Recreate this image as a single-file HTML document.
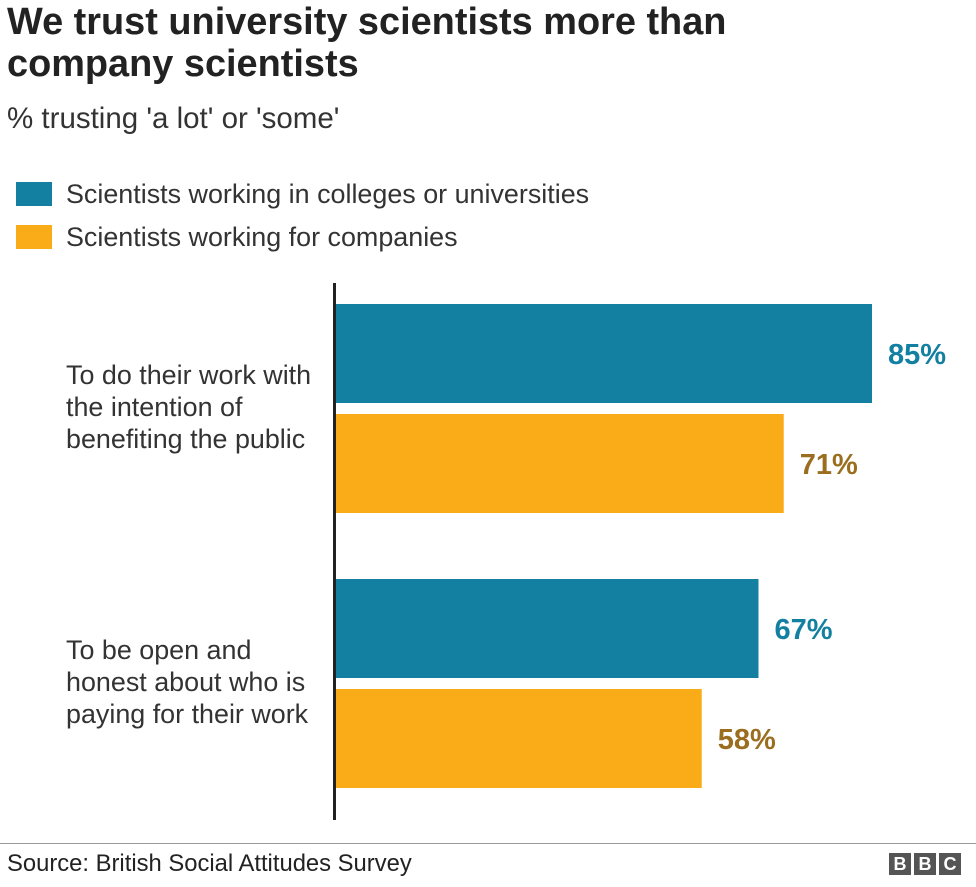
<!DOCTYPE html>
<html><head><meta charset="utf-8"><style>
body{margin:0;width:976px;height:887px;background:#fff;font-family:"Liberation Sans",Arial,sans-serif;overflow:hidden;position:relative}
.t{position:absolute;color:#222;white-space:nowrap}
</style></head><body>
<div class="t" style="left:7px;top:1px;font-size:37.9px;font-weight:bold;line-height:42px;color:#222">We trust university scientists more than<br>company scientists</div>
<div class="t" style="left:7px;top:102px;font-size:29.5px;color:#333">% trusting 'a lot' or 'some'</div>
<div>
<div style="position:absolute;left:16px;top:182px;width:36px;height:24px;background:#1380A1"></div>
<div class="t" style="left:66px;top:179px;font-size:26.9px;color:#333">Scientists working in colleges or universities</div></div>
<div>
<div style="position:absolute;left:16px;top:225px;width:36px;height:24px;background:#FAAB18"></div>
<div class="t" style="left:66px;top:222px;font-size:26.9px;color:#333">Scientists working for companies</div></div>
<svg id="chart" width="976" height="887" style="position:absolute;left:0;top:0"></svg>
<div style="position:absolute;left:0;top:843px;width:976px;height:1px;background:#999"></div>
<div class="t" style="left:7px;top:850px;font-size:23.8px;color:#222">Source: British Social Attitudes Survey</div>
<div style="position:absolute;left:889px;top:853px;display:flex;gap:3px">
<span style="width:22px;height:22px;background:#555;color:#fff;font-weight:bold;font-size:18px;text-align:center;line-height:22px">B</span>
<span style="width:22px;height:22px;background:#555;color:#fff;font-weight:bold;font-size:18px;text-align:center;line-height:22px">B</span>
<span style="width:22px;height:22px;background:#555;color:#fff;font-weight:bold;font-size:18px;text-align:center;line-height:22px">C</span></div>
<script>
const categories=[["To do their work with","the intention of","benefiting the public"],["To be open and","honest about who is","paying for their work"]];
const universityValues=[85,67];
const companyValues=[71,58];
const NS="http://www.w3.org/2000/svg";
const svg=document.getElementById('chart');
const x0=336,x1=872,vmax=85;
function xs(v){return x0+(x1-x0)*v/vmax;}
const groupTop=[304,579];
function mk(t,a){const e=document.createElementNS(NS,t);for(const k in a)e.setAttribute(k,a[k]);svg.appendChild(e);return e;}
categories.forEach((c,i)=>{
  const series=[[universityValues[i],'#1380A1','#1380A1','university'],[companyValues[i],'#FAAB18','#9A6E1E','company']];
  series.forEach((s,j)=>{
    const y=groupTop[i]+j*110;
    const r=mk('rect',{x:x0,y:y,width:xs(s[0])-x0,height:99,fill:s[1]});
    
    
    const t=mk('text',{x:xs(s[0])+16,y:y+60,fill:s[2],'font-size':29,'font-weight':'bold','font-family':'Liberation Sans, Arial, sans-serif'});
    t.textContent=s[0]+'%';
    
    
  });
  c.forEach((line,k)=>{
    const t=mk('text',{x:66,y:groupTop[i]+80+k*32,fill:'#333','font-size':26.9,'font-family':'Liberation Sans, Arial, sans-serif'});
    t.textContent=line;
    
    
  });
});
const ax=mk('rect',{x:333,y:283,width:3,height:537,fill:'#222'});


</script>
</body></html>
